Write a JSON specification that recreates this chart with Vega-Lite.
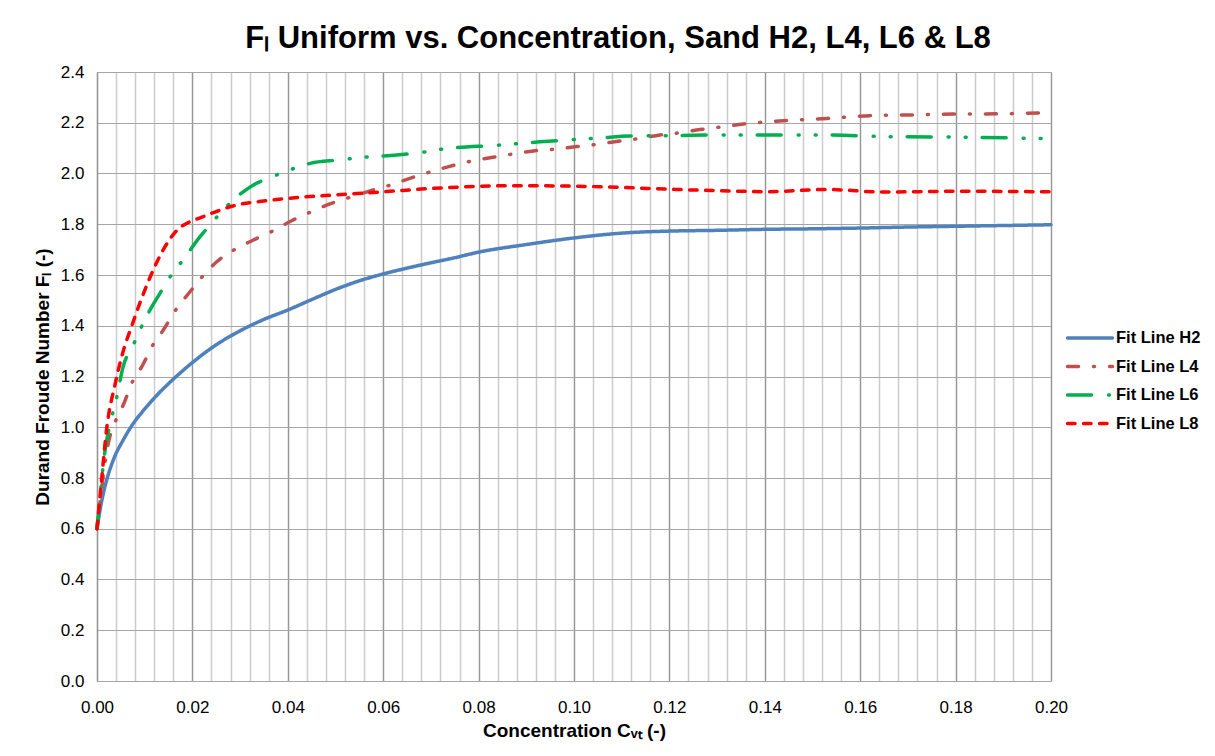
{
 "$schema": "https://vega.github.io/schema/vega-lite/v6.json",
 "width": 954, "height": 609,
 "autosize": "none",
 "padding": {"left": 97, "top": 72, "right": 164, "bottom": 75},
 "background": "white",
 "config": {"font": "Liberation Sans", "view": {"stroke": null}},
 "title": {"text": "Fₗ Uniform vs. Concentration, Sand H2, L4, L6 & L8", "fontSize": 31, "fontWeight": "bold", "font": "Liberation Sans", "color": "black", "anchor": "middle", "dx": 44, "offset": 8},
 "data": {"values": [
  {"s":"Fit Line H2","c":0,"F":0.60},{"s":"Fit Line H2","c":0.001,"F":0.71},{"s":"Fit Line H2","c":0.002,"F":0.79},{"s":"Fit Line H2","c":0.0035,"F":0.875},{"s":"Fit Line H2","c":0.0055,"F":0.95},{"s":"Fit Line H2","c":0.0075,"F":1.012},{"s":"Fit Line H2","c":0.01,"F":1.072},{"s":"Fit Line H2","c":0.0125,"F":1.125},{"s":"Fit Line H2","c":0.015,"F":1.172},{"s":"Fit Line H2","c":0.0175,"F":1.215},{"s":"Fit Line H2","c":0.02,"F":1.255},{"s":"Fit Line H2","c":0.025,"F":1.325},{"s":"Fit Line H2","c":0.03,"F":1.38},{"s":"Fit Line H2","c":0.035,"F":1.425},{"s":"Fit Line H2","c":0.04,"F":1.462},{"s":"Fit Line H2","c":0.045,"F":1.503},{"s":"Fit Line H2","c":0.05,"F":1.543},{"s":"Fit Line H2","c":0.055,"F":1.577},{"s":"Fit Line H2","c":0.06,"F":1.604},{"s":"Fit Line H2","c":0.065,"F":1.627},{"s":"Fit Line H2","c":0.07,"F":1.648},{"s":"Fit Line H2","c":0.075,"F":1.668},{"s":"Fit Line H2","c":0.08,"F":1.69},{"s":"Fit Line H2","c":0.09,"F":1.72},{"s":"Fit Line H2","c":0.10,"F":1.746},{"s":"Fit Line H2","c":0.11,"F":1.765},{"s":"Fit Line H2","c":0.12,"F":1.773},{"s":"Fit Line H2","c":0.13,"F":1.776},{"s":"Fit Line H2","c":0.14,"F":1.78},{"s":"Fit Line H2","c":0.15,"F":1.782},{"s":"Fit Line H2","c":0.16,"F":1.785},{"s":"Fit Line H2","c":0.17,"F":1.789},{"s":"Fit Line H2","c":0.18,"F":1.792},{"s":"Fit Line H2","c":0.19,"F":1.795},{"s":"Fit Line H2","c":0.20,"F":1.798},
  {"s":"Fit Line L4","c":0,"F":0.60},{"s":"Fit Line L4","c":0.0024,"F":0.94},{"s":"Fit Line L4","c":0.004,"F":1.03},{"s":"Fit Line L4","c":0.0055,"F":1.088},{"s":"Fit Line L4","c":0.0075,"F":1.182},{"s":"Fit Line L4","c":0.0094,"F":1.239},{"s":"Fit Line L4","c":0.0118,"F":1.327},{"s":"Fit Line L4","c":0.0139,"F":1.383},{"s":"Fit Line L4","c":0.0166,"F":1.465},{"s":"Fit Line L4","c":0.0195,"F":1.534},{"s":"Fit Line L4","c":0.0222,"F":1.596},{"s":"Fit Line L4","c":0.0251,"F":1.652},{"s":"Fit Line L4","c":0.0289,"F":1.701},{"s":"Fit Line L4","c":0.0328,"F":1.738},{"s":"Fit Line L4","c":0.037,"F":1.775},{"s":"Fit Line L4","c":0.0408,"F":1.814},{"s":"Fit Line L4","c":0.0449,"F":1.849},{"s":"Fit Line L4","c":0.0488,"F":1.88},{"s":"Fit Line L4","c":0.053,"F":1.906},{"s":"Fit Line L4","c":0.0579,"F":1.935},{"s":"Fit Line L4","c":0.0616,"F":1.955},{"s":"Fit Line L4","c":0.0656,"F":1.981},{"s":"Fit Line L4","c":0.07,"F":2.007},{"s":"Fit Line L4","c":0.0785,"F":2.049},{"s":"Fit Line L4","c":0.083,"F":2.064},{"s":"Fit Line L4","c":0.0873,"F":2.077},{"s":"Fit Line L4","c":0.0915,"F":2.089},{"s":"Fit Line L4","c":0.096,"F":2.096},{"s":"Fit Line L4","c":0.1006,"F":2.106},{"s":"Fit Line L4","c":0.1048,"F":2.115},{"s":"Fit Line L4","c":0.1096,"F":2.128},{"s":"Fit Line L4","c":0.1137,"F":2.138},{"s":"Fit Line L4","c":0.118,"F":2.152},{"s":"Fit Line L4","c":0.1224,"F":2.161},{"s":"Fit Line L4","c":0.1264,"F":2.173},{"s":"Fit Line L4","c":0.1311,"F":2.184},{"s":"Fit Line L4","c":0.1355,"F":2.195},{"s":"Fit Line L4","c":0.1439,"F":2.208},{"s":"Fit Line L4","c":0.153,"F":2.217},{"s":"Fit Line L4","c":0.162,"F":2.228},{"s":"Fit Line L4","c":0.1711,"F":2.231},{"s":"Fit Line L4","c":0.1795,"F":2.234},{"s":"Fit Line L4","c":0.1886,"F":2.235},{"s":"Fit Line L4","c":0.20,"F":2.24},
  {"s":"Fit Line L6","c":0,"F":0.60},{"s":"Fit Line L6","c":0.0017,"F":0.91},{"s":"Fit Line L6","c":0.0031,"F":1.04},{"s":"Fit Line L6","c":0.004,"F":1.107},{"s":"Fit Line L6","c":0.0055,"F":1.24},{"s":"Fit Line L6","c":0.0076,"F":1.324},{"s":"Fit Line L6","c":0.0089,"F":1.379},{"s":"Fit Line L6","c":0.0115,"F":1.475},{"s":"Fit Line L6","c":0.0132,"F":1.528},{"s":"Fit Line L6","c":0.0147,"F":1.576},{"s":"Fit Line L6","c":0.0167,"F":1.626},{"s":"Fit Line L6","c":0.0188,"F":1.679},{"s":"Fit Line L6","c":0.0216,"F":1.751},{"s":"Fit Line L6","c":0.024,"F":1.804},{"s":"Fit Line L6","c":0.0261,"F":1.849},{"s":"Fit Line L6","c":0.0286,"F":1.896},{"s":"Fit Line L6","c":0.0328,"F":1.955},{"s":"Fit Line L6","c":0.0359,"F":1.981},{"s":"Fit Line L6","c":0.0389,"F":2.003},{"s":"Fit Line L6","c":0.0447,"F":2.04},{"s":"Fit Line L6","c":0.0506,"F":2.053},{"s":"Fit Line L6","c":0.0572,"F":2.066},{"s":"Fit Line L6","c":0.0628,"F":2.073},{"s":"Fit Line L6","c":0.0691,"F":2.086},{"s":"Fit Line L6","c":0.0719,"F":2.095},{"s":"Fit Line L6","c":0.0845,"F":2.112},{"s":"Fit Line L6","c":0.0929,"F":2.125},{"s":"Fit Line L6","c":0.1054,"F":2.14},{"s":"Fit Line L6","c":0.1117,"F":2.148},{"s":"Fit Line L6","c":0.1208,"F":2.149},{"s":"Fit Line L6","c":0.13,"F":2.152},{"s":"Fit Line L6","c":0.14,"F":2.152},{"s":"Fit Line L6","c":0.1516,"F":2.152},{"s":"Fit Line L6","c":0.1669,"F":2.145},{"s":"Fit Line L6","c":0.1823,"F":2.143},{"s":"Fit Line L6","c":0.20,"F":2.137},
  {"s":"Fit Line L8","c":0,"F":0.60},{"s":"Fit Line L8","c":0.001,"F":0.80},{"s":"Fit Line L8","c":0.002,"F":0.99},{"s":"Fit Line L8","c":0.0038,"F":1.17},{"s":"Fit Line L8","c":0.0055,"F":1.30},{"s":"Fit Line L8","c":0.0073,"F":1.40},{"s":"Fit Line L8","c":0.009,"F":1.49},{"s":"Fit Line L8","c":0.0111,"F":1.59},{"s":"Fit Line L8","c":0.0139,"F":1.70},{"s":"Fit Line L8","c":0.0167,"F":1.775},{"s":"Fit Line L8","c":0.0195,"F":1.81},{"s":"Fit Line L8","c":0.0216,"F":1.825},{"s":"Fit Line L8","c":0.025,"F":1.85},{"s":"Fit Line L8","c":0.0285,"F":1.872},{"s":"Fit Line L8","c":0.0356,"F":1.893},{"s":"Fit Line L8","c":0.04,"F":1.902},{"s":"Fit Line L8","c":0.0495,"F":1.915},{"s":"Fit Line L8","c":0.06,"F":1.928},{"s":"Fit Line L8","c":0.074,"F":1.945},{"s":"Fit Line L8","c":0.088,"F":1.952},{"s":"Fit Line L8","c":0.10,"F":1.95},{"s":"Fit Line L8","c":0.11,"F":1.945},{"s":"Fit Line L8","c":0.12,"F":1.938},{"s":"Fit Line L8","c":0.135,"F":1.93},{"s":"Fit Line L8","c":0.14,"F":1.928},{"s":"Fit Line L8","c":0.153,"F":1.937},{"s":"Fit Line L8","c":0.165,"F":1.927},{"s":"Fit Line L8","c":0.18,"F":1.93},{"s":"Fit Line L8","c":0.20,"F":1.928}
 ]},
 "layer": [
  {
   "mark": {"type": "point", "opacity": 0},
   "encoding": {
    "x": {"field": "c", "type": "quantitative", "scale": {"domain": [0, 0.2], "nice": false},
      "axis": {"orient": "top", "title": null, "labels": false, "ticks": false, "domain": false, "grid": true, "gridColor": "#cccccc", "gridWidth": 1.5, "gridOpacity": 1,
        "values": [0,0.004,0.008,0.012,0.016,0.02,0.024,0.028,0.032,0.036,0.04,0.044,0.048,0.052,0.056,0.06,0.064,0.068,0.072,0.076,0.08,0.084,0.088,0.092,0.096,0.1,0.104,0.108,0.112,0.116,0.12,0.124,0.128,0.132,0.136,0.14,0.144,0.148,0.152,0.156,0.16,0.164,0.168,0.172,0.176,0.18,0.184,0.188,0.192,0.196,0.2]}},
    "y": {"field": "F", "type": "quantitative", "scale": {"domain": [0, 2.4], "nice": false}, "axis": null}
   }
  },
  {
   "mark": {"type": "line", "interpolate": "monotone", "strokeWidth": 3.5, "strokeCap": "round"},
   "encoding": {
    "x": {"field": "c", "type": "quantitative", "scale": {"domain": [0, 0.2], "nice": false},
      "axis": {"orient": "bottom", "values": [0,0.02,0.04,0.06,0.08,0.1,0.12,0.14,0.16,0.18,0.2], "format": ".2f", "grid": true, "gridColor": "#969696", "gridWidth": 1.2, "gridOpacity": 1, "ticks": false, "domain": false, "labelFlush": false,
        "labelFontSize": 17, "labelColor": "black", "labelPadding": 18, "labelFont": "Liberation Sans",
        "title": "Concentration Cᵥₜ (-)", "titleFontSize": 19, "titleFontWeight": "bold", "titleColor": "black", "titlePadding": 6, "titleFont": "Liberation Sans"}},
    "y": {"field": "F", "type": "quantitative", "scale": {"domain": [0, 2.4], "nice": false},
      "axis": {"values": [0,0.2,0.4,0.6,0.8,1.0,1.2,1.4,1.6,1.8,2.0,2.2,2.4], "format": ".1f", "grid": true, "gridColor": "#a6a6a6", "gridWidth": 1.2, "gridOpacity": 1, "ticks": false, "domain": true, "domainColor": "#969696", "domainWidth": 1.2,
        "labelFontSize": 17, "labelColor": "black", "labelPadding": 13, "labelFont": "Liberation Sans",
        "title": "Durand Froude Number Fₗ (-)", "titleFontSize": 19, "titleFontWeight": "bold", "titleColor": "black", "titlePadding": 8, "titleFont": "Liberation Sans"}},
    "color": {"field": "s", "type": "nominal",
      "scale": {"domain": ["Fit Line H2", "Fit Line L4", "Fit Line L6", "Fit Line L8"], "range": ["#4F81BD", "#C0504D", "#00B050", "#FF0000"]},
      "legend": {"orient": "none", "legendX": 980, "legendY": 253, "title": null, "symbolType": "M-2,0H2", "symbolSize": 506, "symbolStrokeWidth": 3.5, "symbolFillColor": "transparent", "labelFontSize": 16.5, "labelFontWeight": "bold", "labelColor": "black", "labelFont": "Liberation Sans", "rowPadding": 6.5, "labelOffset": 13,
        "encode": {"symbols": {"update": {"strokeCap": {"value": "round"}, "fill": {"value": "transparent"}}}}}},
    "strokeDash": {"field": "s", "type": "nominal",
      "scale": {"domain": ["Fit Line H2", "Fit Line L4", "Fit Line L6", "Fit Line L8"], "range": [[1, 0], [11, 15, 1, 15], [24, 17, 1, 16, 1, 16], [7.5, 8.5]]}}
   }
  }
 ],
 "resolve": {"axis": {"x": "independent", "y": "independent"}}
}
